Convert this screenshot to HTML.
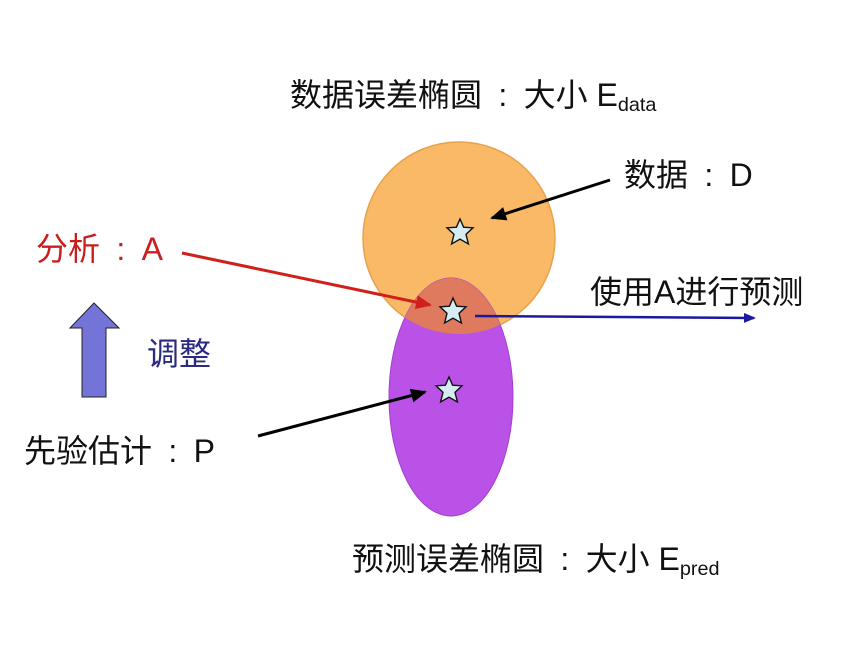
<!DOCTYPE html>
<html><head><meta charset="utf-8"><style>
body{margin:0;width:865px;height:649px;background:#fff;position:relative;overflow:hidden;font-family:"Liberation Sans","Noto Sans CJK SC",sans-serif}
.t{position:absolute;white-space:nowrap;line-height:1;color:#111;font-size:32px}
.c{display:inline-block;width:1.3em;text-align:center}
sub{font-size:0.62em;vertical-align:-0.25em}
</style></head><body>
<svg width="865" height="649" style="position:absolute;left:0;top:0">
<defs>
<clipPath id="c"><circle cx="459" cy="238" r="96"/></clipPath>
<marker id="mr" markerWidth="16" markerHeight="14" refX="14" refY="7" orient="auto" markerUnits="userSpaceOnUse"><path d="M0,0 L16,7 L0,14 z" fill="#d0201c"/></marker>
<marker id="mb" markerWidth="12" markerHeight="10" refX="10" refY="5" orient="auto" markerUnits="userSpaceOnUse"><path d="M0,0 L12,5 L0,10 z" fill="#1a1aa0"/></marker>
<marker id="mk2" markerWidth="16" markerHeight="14" refX="14" refY="7" orient="auto" markerUnits="userSpaceOnUse"><path d="M0,0 L16,7 L0,14 z" fill="#000"/></marker>
<path id="st" d="M0,-13 L3.6,-4.8 L13,-4.2 L6,2.4 L8.4,12 L0,7.2 L-8.4,12 L-6,2.4 L-13,-4.2 L-3.6,-4.8 z" fill="#d4ecf2" stroke="#111" stroke-width="1.4"/>
</defs>
<circle cx="459" cy="238" r="96" fill="#f9b966" stroke="#e6a24e" stroke-width="1.5"/>
<ellipse cx="451" cy="397" rx="62" ry="119" fill="#bb52e8" stroke="#a23fcc" stroke-width="1"/>
<ellipse cx="451" cy="397" rx="62" ry="119" fill="#e07a5e" clip-path="url(#c)"/>
<use href="#st" x="460" y="232"/>
<use href="#st" x="453" y="311"/>
<use href="#st" x="449" y="390"/>
<line x1="610" y1="180" x2="492" y2="218" stroke="#000" stroke-width="3" marker-end="url(#mk2)"/>
<line x1="182" y1="253" x2="430" y2="305" stroke="#d0201c" stroke-width="3" marker-end="url(#mr)"/>
<line x1="475" y1="316" x2="754" y2="318" stroke="#1a1aa0" stroke-width="2.5" marker-end="url(#mb)"/>
<line x1="258" y1="436" x2="425" y2="392" stroke="#000" stroke-width="3" marker-end="url(#mk2)"/>
<path d="M94,303 L119,328 L106,328 L106,397 L82,397 L82,328 L70,328 z" fill="#7474d8" stroke="#222" stroke-width="1"/>
</svg>
<div class="t" style="left:290px;top:79px">数据误差椭圆<span class="c">:</span>大小 E<sub>data</sub></div>
<div class="t" style="left:624px;top:159px">数据<span class="c">:</span>D</div>
<div class="t" style="left:36px;top:233px;color:#c81e1e">分析<span class="c">:</span>A</div>
<div class="t" style="left:590px;top:276px">使用A进行预测</div>
<div class="t" style="left:147px;top:338px;color:#2a2a80">调整</div>
<div class="t" style="left:24px;top:435px">先验估计<span class="c">:</span>P</div>
<div class="t" style="left:352px;top:543px">预测误差椭圆<span class="c">:</span>大小 E<sub>pred</sub></div>
</body></html>
